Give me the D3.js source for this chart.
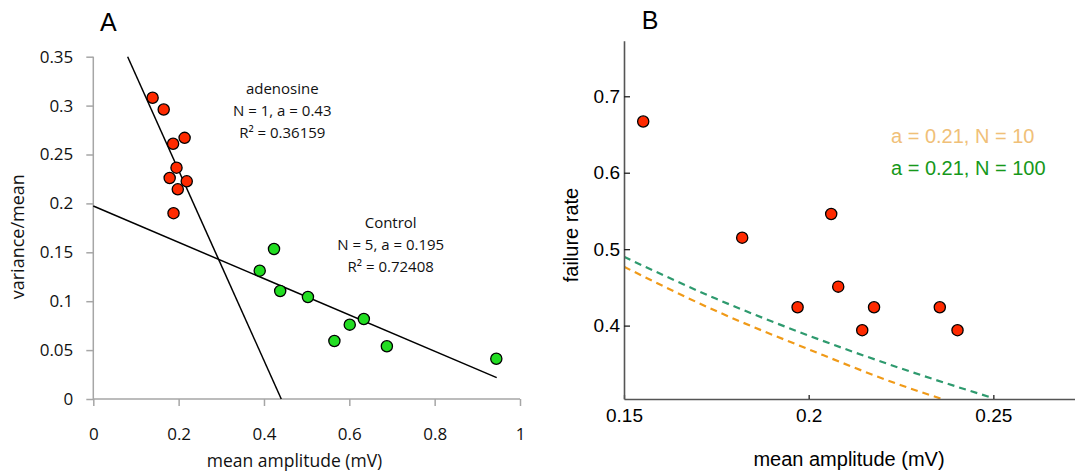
<!DOCTYPE html>
<html>
<head>
<meta charset="utf-8">
<script src="https://cdn.jsdelivr.net/npm/d3@7"></script>
<style>
  body { margin: 0; background: #fff; }
  svg { display: block; }
</style>
</head>
<body>
<div id="chart"></div>
<script>
// values

// panel A : variance/mean vs mean amplitude
var adenoAmp = [0.139, 0.165, 0.187, 0.214, 0.195, 0.179, 0.219, 0.198, 0.188];
var adenoVM  = [0.308, 0.296, 0.261, 0.267, 0.2365, 0.226, 0.2226, 0.2144, 0.190];
var ctrlAmp  = [0.4235, 0.390, 0.438, 0.503, 0.634, 0.601, 0.565, 0.688, 0.9445];
var ctrlVM   = [0.1534, 0.1312, 0.1104, 0.1043, 0.0818, 0.076, 0.0593, 0.0539, 0.0412];
var adenoFitX = [0.0805, 0.4405];
var adenoFitY = [0.35, 0];
var ctrlFitX  = [0, 0.9454];
var ctrlFitY  = [0.1973, 0.0218];
var aTicksX = [0, 0.2, 0.4, 0.6, 0.8, 1];
var aTicksY = [0, 0.05, 0.1, 0.15, 0.2, 0.25, 0.3, 0.35];
var adenoLabel = ["adenosine", "N = 1, a = 0.43", "R\u00b2 = 0.36159"];
var ctrlLabel  = ["Control", "N = 5, a = 0.195", "R\u00b2 = 0.72408"];

// panel B : failure rate vs mean amplitude
var failAmp  = [0.1552, 0.182, 0.2061, 0.197, 0.208, 0.2177, 0.2145, 0.2355, 0.2403];
var failRate = [0.667, 0.515, 0.546, 0.424, 0.451, 0.424, 0.394, 0.424, 0.394];
var n10Amp  = [0.15, 0.175, 0.2, 0.225, 0.24];
var n10Rate = [0.477, 0.419, 0.369, 0.322, 0.298];
var n100Amp  = [0.15, 0.175, 0.2, 0.225, 0.25];
var n100Rate = [0.490, 0.435, 0.387, 0.344, 0.305];
var bTicksX = [0.15, 0.2, 0.25];
var bTicksY = [0.4, 0.5, 0.6, 0.7];
var legendText = ["a = 0.21, N = 10", "a = 0.21, N = 100"];

var width = 1075, height = 475;
var fontA = "'Open Sans', sans-serif";
var fontB = "'Liberation Sans', Arial, sans-serif";

var svg = d3.select("#chart").append("svg")
  .attr("width", width)
  .attr("height", height);

function zip(xs, ys) { return xs.map(function(x, i){ return [x, ys[i]]; }); }

// ---------- panel A ----------
var xA = d3.scaleLinear().domain([0, 1]).range([93.3, 520]);
var yA = d3.scaleLinear().domain([0, 0.35]).range([399, 56.7]);

var gA = svg.append("g");

var axAx = gA.append("g")
  .attr("transform", "translate(0," + yA(0) + ")")
  .call(d3.axisBottom(xA).tickValues(aTicksX).tickSize(7).tickPadding(22)
        .tickFormat(d3.format("~g")));
var axAy = gA.append("g")
  .attr("transform", "translate(" + xA(0) + ",0)")
  .call(d3.axisLeft(yA).tickValues(aTicksY).tickSize(7).tickPadding(13)
        .tickFormat(d3.format("~g")));
[axAx, axAy].forEach(function(a){
  a.select(".domain").attr("stroke", "#a6a6a6").attr("stroke-width", 1.5);
  a.selectAll(".tick line").attr("stroke", "#a6a6a6").attr("stroke-width", 1.5);
  a.selectAll("text").attr("font-family", fontA).attr("font-size", 17).attr("fill", "#111");
});
// axAx domain drawn with outer ticks; keep straight
axAx.select(".domain").attr("d", "M" + xA(0) + ",0H" + xA(1));
axAy.select(".domain").attr("d", "M0," + yA(0.35) + "V" + yA(0));

var lineA = d3.line().x(function(d){ return xA(d[0]); }).y(function(d){ return yA(d[1]); });
gA.append("path").datum(zip(adenoFitX, adenoFitY))
  .attr("d", lineA).attr("fill", "none").attr("stroke", "#000").attr("stroke-width", 1.5);
gA.append("path").datum(zip(ctrlFitX, ctrlFitY))
  .attr("d", lineA).attr("fill", "none").attr("stroke", "#000").attr("stroke-width", 1.5);

gA.selectAll(".adeno").data(zip(adenoAmp, adenoVM)).enter().append("circle")
  .attr("class", "adeno")
  .attr("cx", function(d){ return xA(d[0]); })
  .attr("cy", function(d){ return yA(d[1]); })
  .attr("r", 5.6)
  .attr("fill", "#ff2a00").attr("stroke", "#000").attr("stroke-width", 1.3);
gA.selectAll(".ctrl").data(zip(ctrlAmp, ctrlVM)).enter().append("circle")
  .attr("class", "ctrl")
  .attr("cx", function(d){ return xA(d[0]); })
  .attr("cy", function(d){ return yA(d[1]); })
  .attr("r", 5.6)
  .attr("fill", "#22dd22").attr("stroke", "#000").attr("stroke-width", 1.3);

function labelBlock(g, lines, cx, y0) {
  g.append("g").selectAll("text").data(lines).enter().append("text")
    .attr("x", cx)
    .attr("y", function(d, i){ return y0 + i * 22; })
    .attr("text-anchor", "middle")
    .attr("font-family", fontA).attr("font-size", 15).attr("fill", "#111")
    .text(function(d){ return d; });
}
labelBlock(gA, adenoLabel, 282.3, 94.3);
labelBlock(gA, ctrlLabel, 390.7, 227.7);

gA.append("text")
  .attr("x", 294.5).attr("y", 466.5)
  .attr("text-anchor", "middle")
  .attr("font-family", fontA).attr("font-size", 17.5).attr("fill", "#111")
  .text("mean amplitude (mV)");
gA.append("text")
  .attr("transform", "translate(23.5,236.7) rotate(-90)")
  .attr("text-anchor", "middle")
  .attr("font-family", fontA).attr("font-size", 18).attr("fill", "#111")
  .text("variance/mean");
gA.append("text")
  .attr("x", 100).attr("y", 30.7)
  .attr("font-family", fontB).attr("font-size", 25).attr("fill", "#000")
  .text("A");

// ---------- panel B ----------
var xB = d3.scaleLinear().domain([0.15, 0.272]).range([624, 1074.6]);
var yB = d3.scaleLinear().domain([0.304, 0.7727]).range([399, 40.7]);

var gB = svg.append("g");

svg.append("defs").append("clipPath").attr("id", "clipB")
  .append("rect")
  .attr("x", xB(0.15)).attr("y", yB(0.7727))
  .attr("width", xB(0.272) - xB(0.15)).attr("height", yB(0.304) - yB(0.7727));

var lineB = d3.line().curve(d3.curveMonotoneX)
  .x(function(d){ return xB(d[0]); }).y(function(d){ return yB(d[1]); });
var curves = gB.append("g").attr("clip-path", "url(#clipB)");
curves.append("path").datum(zip(n10Amp, n10Rate))
  .attr("d", lineB).attr("fill", "none").attr("stroke", "#f09a18")
  .attr("stroke-width", 2.2).attr("stroke-dasharray", "7,5");
curves.append("path").datum(zip(n100Amp, n100Rate))
  .attr("d", lineB).attr("fill", "none").attr("stroke", "#2e9a6e")
  .attr("stroke-width", 2.2).attr("stroke-dasharray", "7,5");

var axBx = gB.append("g")
  .attr("transform", "translate(0," + yB(0.304) + ")")
  .call(d3.axisBottom(xB).tickValues(bTicksX).tickSizeInner(-4).tickSizeOuter(0).tickPadding(10)
        .tickFormat(d3.format("~g")));
var axBy = gB.append("g")
  .attr("transform", "translate(" + xB(0.15) + ",0)")
  .call(d3.axisLeft(yB).tickValues(bTicksY).tickSizeInner(-6).tickSizeOuter(0).tickPadding(4)
        .tickFormat(d3.format(".1f")));
[axBx, axBy].forEach(function(a){
  a.select(".domain").attr("stroke", "#555").attr("stroke-width", 1.6);
  a.selectAll(".tick line").attr("stroke", "#222").attr("stroke-width", 1.3);
  a.selectAll("text").attr("font-family", fontB).attr("font-size", 19).attr("fill", "#000");
});

gB.selectAll(".fail").data(zip(failAmp, failRate)).enter().append("circle")
  .attr("class", "fail")
  .attr("cx", function(d){ return xB(d[0]); })
  .attr("cy", function(d){ return yB(d[1]); })
  .attr("r", 5.6)
  .attr("fill", "#ff2a00").attr("stroke", "#000").attr("stroke-width", 1.3);

var legendColors = ["#f0c078", "#16981a"];
gB.append("g").selectAll("text").data(legendText).enter().append("text")
  .attr("x", 891)
  .attr("y", function(d, i){ return 142.7 + i * 32.5; })
  .attr("font-family", fontB).attr("font-size", 20)
  .attr("fill", function(d, i){ return legendColors[i]; })
  .text(function(d){ return d; });

gB.append("text")
  .attr("x", 849).attr("y", 466)
  .attr("text-anchor", "middle")
  .attr("font-family", fontB).attr("font-size", 20).attr("fill", "#000")
  .text("mean amplitude (mV)");
gB.append("text")
  .attr("transform", "translate(577.5,235) rotate(-90)")
  .attr("text-anchor", "middle")
  .attr("font-family", fontB).attr("font-size", 20).attr("fill", "#000")
  .text("failure rate");
gB.append("text")
  .attr("x", 641.7).attr("y", 29.3)
  .attr("font-family", fontB).attr("font-size", 25).attr("fill", "#000")
  .text("B");
</script>
</body>
</html>
